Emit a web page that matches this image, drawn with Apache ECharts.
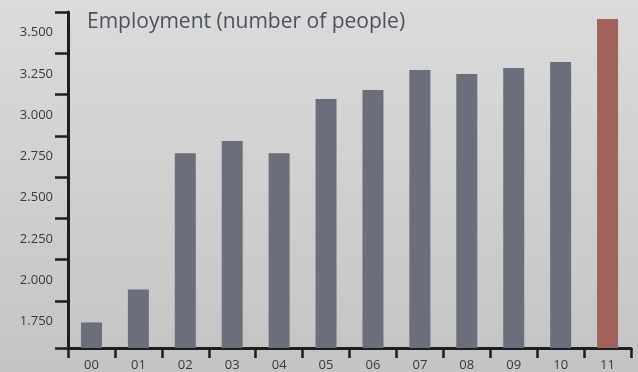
<!DOCTYPE html>
<html>
<head>
<meta charset="utf-8">
<script src="https://cdn.jsdelivr.net/npm/echarts@6/dist/echarts.min.js"></script>
<style>
  html, body { margin: 0; padding: 0; }
  #chart { width: 638px; height: 372px; }
</style>
</head>
<body>
<div id="chart"></div>
<script>
// years (two-digit labels)
const years = ['00', '01', '02', '03', '04', '05', '06', '07', '08', '09', '10', '11']
// employment, number of people
const employment = [1745, 1945, 2770, 2843, 2770, 3098, 3152, 3273, 3249, 3286, 3322, 3583]
// y labels sit between the tick marks
const yLabelValues = [1750, 2000, 2250, 2500, 2750, 3000, 3250, 3500]
const yTickValues = [1590, 1875, 2125, 2375, 2625, 2875, 3125, 3375, 3625]

const barColor = '#6b6f7c'
const lastColor = '#a0625a'
const axisColor = '#1e1e1e'

let chart = echarts.init(document.getElementById('chart'), null, { renderer: 'canvas' })

let option = {
  animation: false,
  backgroundColor: {
    type: 'linear', x: 0, y: 0, x2: 0, y2: 1,
    colorStops: [
      { offset: 0, color: '#dbdbdb' },
      { offset: 1, color: '#c4c4c4' }
    ]
  },
  title: {
    text: 'Employment (number of people)',
    left: 82,
    top: 7,
    textStyle: {
      fontFamily: 'Open Sans',
      fontWeight: 'normal',
      fontSize: 21,
      color: '#4b5161'
    }
  },
  grid: {
    left: 68,
    right: 7,
    top: 12,
    bottom: 24,
    containLabel: false
  },
  xAxis: {
    type: 'category',
    data: years,
    axisLine: { show: true, lineStyle: { color: axisColor, width: 3 } },
    axisTick: { show: true, length: 10, lineStyle: { color: axisColor, width: 2.5 } },
    axisLabel: {
      margin: 11,
      fontFamily: 'Open Sans',
      fontSize: 13,
      color: '#3a3a3a'
    },
    splitLine: { show: false }
  },
  yAxis: {
    type: 'value',
    min: 1590,
    max: 3625,
    axisLine: { show: true, lineStyle: { color: axisColor, width: 3 } },
    axisTick: {
      show: true,
      length: 13,
      customValues: yTickValues,
      lineStyle: { color: axisColor, width: 2.5 }
    },
    axisLabel: {
      customValues: yLabelValues,
      margin: 15,
      fontFamily: 'Open Sans',
      fontSize: 13,
      color: '#3a3a3a',
      formatter: (v) => {
        let s = String(v)
        return s.slice(0, 1) + '.' + s.slice(1)
      }
    },
    splitLine: { show: false }
  },
  series: [{
    type: 'bar',
    barWidth: 21,
    data: employment.map((v, i) => ({
      value: v,
      itemStyle: { color: i === employment.length - 1 ? lastColor : barColor }
    }))
  }]
}

chart.setOption(option)
</script>
</body>
</html>
